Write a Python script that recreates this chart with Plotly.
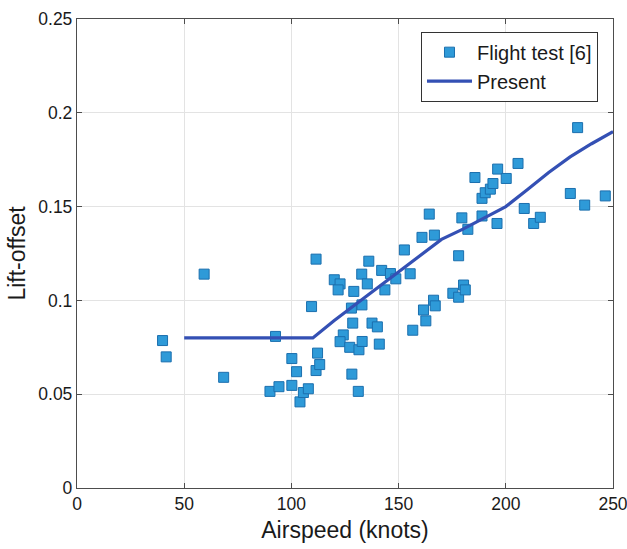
import plotly.graph_objects as go

# Flight test data (airspeed knots, lift-offset)
flight_x = [39.9, 41.6, 59.3, 68.4, 92.6, 90.0, 94.2, 100.2, 100.2, 102.4,
            104.0, 105.6, 107.9, 109.4, 111.5, 112.2, 111.5, 113.2, 120.0, 122.7,
            121.8, 129.1, 128.0, 128.6, 124.2, 122.7, 127.2, 131.5, 128.2, 131.2,
            132.8, 132.9, 133.0, 135.4, 136.1, 137.6, 140.1, 141.0, 142.1, 143.6,
            146.2, 148.7, 152.7, 155.4, 156.6, 160.9, 161.6, 162.7, 164.3, 166.3,
            167.1, 166.7, 175.3, 178.0, 178.0, 179.5, 180.3, 181.1, 182.3, 185.6,
            188.9, 188.9, 190.4, 192.8, 194.0, 195.9, 196.2, 200.2, 205.7, 208.6,
            213.0, 216.1, 230.1, 233.5, 236.8, 246.4]
flight_y = [0.0786, 0.0699, 0.114, 0.059, 0.0808, 0.0515, 0.054, 0.069, 0.0547, 0.062,
            0.0459, 0.0509, 0.0529, 0.0967, 0.122, 0.0719, 0.0626, 0.0658, 0.111, 0.1088,
            0.1056, 0.1048, 0.0959, 0.0879, 0.0816, 0.078, 0.075, 0.0737, 0.0607, 0.0515,
            0.114, 0.0976, 0.0781, 0.1088, 0.1209, 0.0879, 0.0859, 0.0767, 0.116, 0.1056,
            0.1143, 0.1115, 0.1269, 0.1142, 0.0841, 0.1336, 0.0949, 0.0891, 0.146, 0.1001,
            0.0971, 0.1348, 0.1038, 0.1017, 0.1238, 0.144, 0.1082, 0.1056, 0.1379, 0.1655,
            0.1544, 0.145, 0.1574, 0.1593, 0.1623, 0.141, 0.170, 0.165, 0.173, 0.149,
            0.141, 0.1443, 0.157, 0.1921, 0.1508, 0.1557]

# Present prediction
present_x = [50, 60, 70, 80, 90, 100, 110, 120, 130, 140, 150, 160, 170, 180, 190, 200,
             210, 220, 230, 240, 250]
present_y = [0.08, 0.08, 0.08, 0.08, 0.08, 0.08, 0.08, 0.0893, 0.098, 0.1065, 0.115, 0.124,
             0.1325, 0.138, 0.144, 0.150, 0.159, 0.1682, 0.1765, 0.1835, 0.190]

x_ticks = [0, 50, 100, 150, 200, 250]
y_ticks = [0, 0.05, 0.1, 0.15, 0.2, 0.25]
y_tick_text = ["0", "0.05", "0.1", "0.15", "0.2", "0.25"]

font_family = "Liberation Sans, Arial, sans-serif"

fig = go.Figure()
fig.add_trace(go.Scatter(
    x=flight_x, y=flight_y, mode="markers", name="Flight test [6]",
    marker=dict(symbol="square", size=10, color="#2E9AD8",
                line=dict(color="#1B6FAE", width=1)),
))
fig.add_trace(go.Scatter(
    x=present_x, y=present_y, mode="lines", name="Present",
    line=dict(color="#3450B4", width=3.2),
))

axis_common = dict(
    showline=True, linecolor="#4d4d4d", linewidth=1.3, mirror="ticks",
    ticks="inside", ticklen=5, tickcolor="#4d4d4d",
    showgrid=True, gridcolor="#e3e3e3", gridwidth=1,
    zeroline=False, automargin=False, ticklabeloverflow="allow",
    tickfont=dict(size=17.5, color="#1a1a1a", family=font_family),
)

fig.update_layout(
    width=627, height=549,
    margin=dict(l=77, r=14, t=19, b=61),
    paper_bgcolor="white", plot_bgcolor="white",
    font=dict(family=font_family, color="#1a1a1a"),
    xaxis=dict(range=[0, 250], tickvals=x_ticks,
               title=dict(text="Airspeed (knots)", font=dict(size=23), standoff=8),
               **axis_common),
    yaxis=dict(range=[0, 0.25], tickvals=y_ticks, ticktext=y_tick_text,
               title=dict(text="Lift-offset", font=dict(size=23), standoff=6),
               **axis_common),
    legend=dict(x=0.972, y=0.973, xanchor="right", yanchor="top",
                bordercolor="#333333", borderwidth=1, bgcolor="white",
                font=dict(size=20, color="#1a1a1a"), tracegroupgap=0,
                itemwidth=45),
    showlegend=True,
)

fig.write_html("out.html")
